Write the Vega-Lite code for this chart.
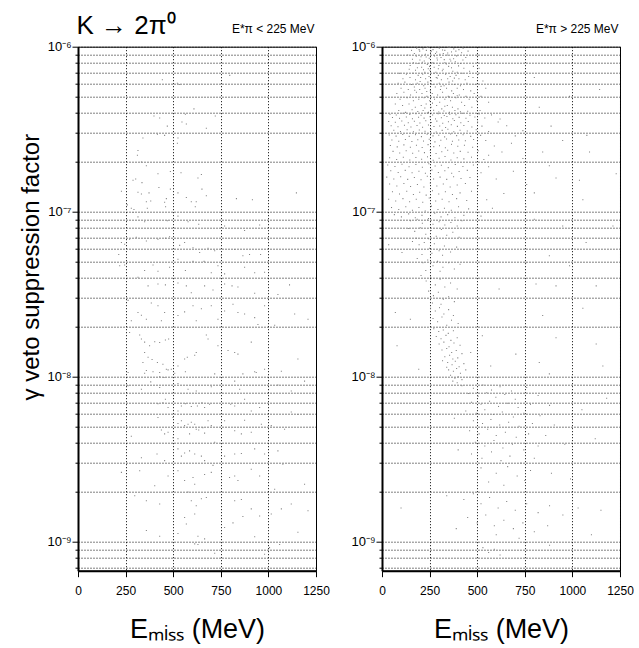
{
"$schema":"https://vega.github.io/schema/vega-lite/v6.json",
"padding":{"left":18,"top":11.7,"right":0,"bottom":0},
"background":"white",
"config":{"font":"Liberation Sans","view":{"stroke":"black","strokeWidth":1},"axis":{"labelFont":"Liberation Sans","titleFont":"Liberation Sans","labelColor":"black","titleColor":"black","titleFontWeight":"normal","domainColor":"black","tickColor":"black"}},
"bounds":"flush",
"spacing":66,
"datasets":{
"lo":[
{"x":797,"y":6.7e-7},{"x":443,"y":6.3e-7},{"x":522,"y":6.0e-7},{"x":534,"y":5.9e-7},{"x":609,"y":4.2e-7},{"x":399,"y":3.8e-7},{"x":429,"y":3.7e-7},{"x":564,"y":3.9e-7},{"x":721,"y":3.8e-7},{"x":546,"y":3.5e-7},{"x":569,"y":3.4e-7},{"x":469,"y":3.3e-7},{"x":674,"y":3.2e-7},{"x":417,"y":2.95e-7},{"x":455,"y":2.9e-7},{"x":525,"y":2.8e-7},{"x":522,"y":2.6e-7},{"x":341,"y":2.8e-7},{"x":315,"y":2.35e-7},{"x":312,"y":2.2e-7},{"x":333,"y":2.0e-7},{"x":359,"y":1.9e-7},{"x":420,"y":1.7e-7},{"x":485,"y":1.75e-7},{"x":541,"y":1.72e-7},{"x":630,"y":1.6e-7},{"x":648,"y":1.68e-7},{"x":289,"y":1.55e-7},{"x":303,"y":1.58e-7},{"x":336,"y":1.5e-7},{"x":425,"y":1.4e-7},{"x":651,"y":1.37e-7},{"x":228,"y":1.33e-7},{"x":315,"y":1.31e-7},{"x":333,"y":1.28e-7},{"x":373,"y":1.3e-7},{"x":485,"y":1.37e-7},{"x":525,"y":1.3e-7},{"x":569,"y":1.22e-7},{"x":464,"y":1.2e-7},{"x":359,"y":1.15e-7},{"x":382,"y":1.16e-7},{"x":595,"y":1.15e-7},{"x":621,"y":1.15e-7},{"x":674,"y":1.25e-7},{"x":832,"y":1.2e-7},{"x":916,"y":1.18e-7},{"x":1147,"y":1.3e-7},{"x":259,"y":1.1e-7},{"x":280,"y":1.05e-7},{"x":455,"y":1.14e-7},{"x":294,"y":1.03e-7},
{"x":364,"y":1.05e-7},{"x":460,"y":1.07e-7},{"x":616,"y":1.07e-7},{"x":289,"y":9.9e-8},{"x":315,"y":9.3e-8},{"x":350,"y":8.7e-8},{"x":469,"y":8.8e-8},{"x":578,"y":8.7e-8},{"x":634,"y":8.4e-8},{"x":525,"y":9.4e-8},{"x":770,"y":8.2e-8},{"x":875,"y":7.7e-8},{"x":954,"y":8.3e-8},
{"x":228,"y":6.5e-8},{"x":245,"y":6.35e-8},{"x":271,"y":6.8e-8},{"x":306,"y":7.0e-8},{"x":359,"y":6.65e-8},{"x":420,"y":6.8e-8},{"x":460,"y":6.9e-8},{"x":481,"y":7.05e-8},{"x":534,"y":6.25e-8},{"x":560,"y":6.5e-8},{"x":604,"y":6.05e-8},{"x":639,"y":5.65e-8},{"x":683,"y":6.0e-8},{"x":718,"y":5.8e-8},{"x":753,"y":5.4e-8},{"x":823,"y":5.9e-8},{"x":866,"y":5.4e-8},{"x":901,"y":5.5e-8},{"x":959,"y":5.5e-8},{"x":214,"y":5.5e-8},{"x":219,"y":4.7e-8},{"x":245,"y":4.75e-8},{"x":350,"y":4.4e-8},{"x":394,"y":4.75e-8},{"x":420,"y":4.35e-8},{"x":481,"y":4.6e-8},{"x":525,"y":5.15e-8},{"x":564,"y":4.4e-8},{"x":604,"y":5.0e-8},{"x":662,"y":5.0e-8},{"x":700,"y":4.27e-8},{"x":735,"y":4.7e-8},{"x":770,"y":4.2e-8},{"x":875,"y":4.6e-8},{"x":928,"y":4.27e-8},{"x":980,"y":4.3e-8},
{"x":315,"y":4.0e-8},{"x":368,"y":3.55e-8},{"x":420,"y":3.65e-8},{"x":459,"y":3.6e-8},{"x":525,"y":3.7e-8},{"x":569,"y":3.55e-8},{"x":595,"y":3.23e-8},{"x":665,"y":3.55e-8},{"x":709,"y":3.35e-8},{"x":770,"y":3.65e-8},{"x":809,"y":3.55e-8},{"x":840,"y":3.5e-8},{"x":928,"y":3.2e-8},{"x":1050,"y":3.15e-8},{"x":1111,"y":3.6e-8},{"x":263,"y":2.9e-8},{"x":315,"y":2.45e-8},{"x":333,"y":2.36e-8},{"x":385,"y":2.8e-8},{"x":420,"y":2.69e-8},{"x":455,"y":2.45e-8},{"x":525,"y":2.35e-8},{"x":560,"y":2.47e-8},{"x":604,"y":2.69e-8},{"x":648,"y":2.58e-8},{"x":700,"y":2.69e-8},{"x":770,"y":2.5e-8},{"x":814,"y":2.75e-8},{"x":840,"y":2.45e-8},{"x":875,"y":2.4e-8},{"x":928,"y":2.28e-8},{"x":980,"y":2.69e-8},{"x":1138,"y":2.4e-8},{"x":1208,"y":2.23e-8},{"x":280,"y":2.18e-8},{"x":359,"y":2.23e-8},{"x":438,"y":2.18e-8},{"x":621,"y":2.18e-8},{"x":735,"y":2.23e-8},{"x":945,"y":2.07e-8},{"x":1033,"y":2.05e-8},
{"x":271,"y":1.85e-8},{"x":324,"y":1.79e-8},{"x":333,"y":1.69e-8},{"x":350,"y":1.62e-8},{"x":376,"y":1.54e-8},{"x":403,"y":1.63e-8},{"x":429,"y":1.61e-8},{"x":459,"y":1.67e-8},{"x":476,"y":1.69e-8},{"x":350,"y":1.4e-8},{"x":368,"y":1.31e-8},{"x":389,"y":1.27e-8},{"x":417,"y":1.22e-8},{"x":446,"y":1.19e-8},{"x":464,"y":1.11e-8},{"x":473,"y":1.1e-8},{"x":341,"y":1.22e-8},{"x":359,"y":1.09e-8},{"x":429,"y":1.06e-8},{"x":490,"y":1.11e-8},{"x":525,"y":1.16e-8},{"x":560,"y":1.28e-8},{"x":574,"y":1.31e-8},{"x":613,"y":1.35e-8},{"x":621,"y":1.4e-8},{"x":674,"y":1.79e-8},{"x":683,"y":1.69e-8},{"x":735,"y":1.54e-8},{"x":788,"y":1.44e-8},{"x":823,"y":1.4e-8},{"x":840,"y":1.37e-8},{"x":910,"y":1.62e-8},{"x":980,"y":1.11e-8},{"x":936,"y":1.06e-8},{"x":1068,"y":1.08e-8},{"x":1155,"y":1.28e-8},{"x":263,"y":1.06e-8},
{"x":350,"y":1.05e-8},{"x":394,"y":1.07e-8},{"x":429,"y":1.0e-8},{"x":452,"y":9.9e-9},{"x":508,"y":1.05e-8},{"x":564,"y":1.07e-8},{"x":718,"y":1.04e-8},{"x":866,"y":1.04e-8},{"x":928,"y":1.07e-8},{"x":263,"y":8.8e-9},{"x":333,"y":8.4e-9},{"x":382,"y":9.3e-9},{"x":429,"y":8.6e-9},{"x":525,"y":9.1e-9},{"x":578,"y":8.4e-9},{"x":621,"y":8.2e-9},{"x":700,"y":8.7e-9},{"x":823,"y":9.4e-9},{"x":849,"y":8.4e-9},{"x":998,"y":7.9e-9},{"x":1050,"y":8.9e-9},{"x":1120,"y":8.2e-9},{"x":1190,"y":9.4e-9},
{"x":420,"y":6.85e-9},{"x":446,"y":6.95e-9},{"x":459,"y":7.3e-9},{"x":473,"y":6.5e-9},{"x":525,"y":6.2e-9},{"x":543,"y":6.65e-9},{"x":564,"y":6.85e-9},{"x":595,"y":6.6e-9},{"x":627,"y":6.65e-9},{"x":651,"y":6.95e-9},{"x":665,"y":6.5e-9},{"x":691,"y":6.8e-9},{"x":802,"y":6.8e-9},{"x":823,"y":6.65e-9},{"x":875,"y":7.3e-9},{"x":910,"y":6.2e-9},{"x":954,"y":6.5e-9},{"x":420,"y":5.65e-9},{"x":499,"y":5.65e-9},{"x":525,"y":5.2e-9},{"x":543,"y":5.4e-9},{"x":560,"y":5.05e-9},{"x":578,"y":5.15e-9},{"x":595,"y":5.3e-9},{"x":613,"y":5.15e-9},{"x":634,"y":4.75e-9},{"x":656,"y":4.9e-9},{"x":683,"y":5.4e-9},{"x":700,"y":5.05e-9},{"x":770,"y":5.4e-9},{"x":823,"y":4.7e-9},{"x":875,"y":5.45e-9},{"x":963,"y":5.15e-9},{"x":1015,"y":5.05e-9},{"x":1085,"y":4.8e-9},{"x":1120,"y":6.1e-9},{"x":1155,"y":5.9e-9},{"x":438,"y":4.75e-9},{"x":455,"y":4.5e-9},{"x":473,"y":4.6e-9},{"x":499,"y":4.27e-9},{"x":525,"y":4.2e-9},{"x":586,"y":4.5e-9},{"x":621,"y":4.8e-9},{"x":665,"y":4.55e-9},{"x":718,"y":4.0e-9},{"x":280,"y":4.35e-9},{"x":858,"y":4.5e-9},{"x":910,"y":4.6e-9},
{"x":333,"y":3.23e-9},{"x":415,"y":3.4e-9},{"x":455,"y":3.1e-9},{"x":525,"y":3.65e-9},{"x":543,"y":3.3e-9},{"x":560,"y":3.45e-9},{"x":586,"y":3.55e-9},{"x":613,"y":3.4e-9},{"x":648,"y":3.3e-9},{"x":665,"y":3.1e-9},{"x":709,"y":2.9e-9},{"x":770,"y":3.3e-9},{"x":823,"y":3.4e-9},{"x":858,"y":3.42e-9},{"x":928,"y":3.65e-9},{"x":980,"y":3.4e-9},{"x":1050,"y":3.55e-9},{"x":1076,"y":2.95e-9},{"x":228,"y":2.63e-9},{"x":324,"y":2.69e-9},{"x":473,"y":2.5e-9},{"x":525,"y":2.69e-9},{"x":560,"y":2.35e-9},{"x":604,"y":2.45e-9},{"x":613,"y":2.23e-9},{"x":665,"y":2.55e-9},{"x":700,"y":2.63e-9},{"x":796,"y":2.45e-9},{"x":823,"y":2.5e-9},{"x":840,"y":2.35e-9},{"x":910,"y":2.75e-9},{"x":954,"y":2.5e-9},{"x":1033,"y":2.08e-9},{"x":1190,"y":2.23e-9},{"x":403,"y":2.18e-9},
{"x":298,"y":1.9e-9},{"x":359,"y":1.77e-9},{"x":429,"y":1.69e-9},{"x":578,"y":2.0e-9},{"x":595,"y":1.77e-9},{"x":621,"y":1.65e-9},{"x":648,"y":1.82e-9},{"x":674,"y":1.85e-9},{"x":560,"y":1.4e-9},{"x":569,"y":1.28e-9},{"x":613,"y":1.47e-9},{"x":823,"y":1.77e-9},{"x":858,"y":1.8e-9},{"x":866,"y":1.42e-9},{"x":910,"y":1.58e-9},{"x":954,"y":1.43e-9},{"x":1015,"y":1.47e-9},{"x":1068,"y":1.58e-9},{"x":1120,"y":1.69e-9},{"x":1208,"y":1.54e-9},{"x":359,"y":1.17e-9},{"x":429,"y":1.08e-9},{"x":525,"y":1.12e-9},{"x":630,"y":1.08e-9},{"x":770,"y":1.22e-9},{"x":814,"y":1.3e-9},{"x":928,"y":1.07e-9},{"x":1155,"y":1.14e-9},
{"x":613,"y":9.7e-10},{"x":630,"y":9.6e-10},{"x":718,"y":8.5e-10},{"x":980,"y":8.4e-10},{"x":1006,"y":9.2e-10},{"x":1059,"y":9.6e-10},{"x":665,"y":1.04e-9}
],
"hi":[
{"x":182,"y":9.8e-7},{"x":215,"y":9.7e-7},{"x":240,"y":9.9e-7},{"x":268,"y":9.6e-7},{"x":301,"y":9.8e-7},{"x":330,"y":9.5e-7},{"x":352,"y":9.9e-7},{"x":377,"y":9.7e-7},{"x":404,"y":9.6e-7},{"x":287,"y":9.3e-7},{"x":198,"y":9.4e-7},{"x":255,"y":9.2e-7},{"x":322,"y":9.1e-7},{"x":365,"y":9.3e-7},{"x":418,"y":9.2e-7},{"x":228,"y":9.0e-7},{"x":170,"y":9.1e-7},{"x":343,"y":8.9e-7},{"x":276,"y":8.8e-7},{"x":392,"y":8.8e-7},{"x":205,"y":8.7e-7},{"x":310,"y":8.6e-7},{"x":248,"y":8.5e-7},{"x":440,"y":8.6e-7},{"x":160,"y":8.4e-7},{"x":357,"y":8.4e-7},{"x":291,"y":8.3e-7},{"x":222,"y":8.2e-7},{"x":385,"y":8.1e-7},{"x":263,"y":8.0e-7},{"x":330,"y":8.0e-7},{"x":189,"y":7.9e-7},{"x":412,"y":7.9e-7},{"x":238,"y":7.8e-7},{"x":299,"y":7.7e-7},{"x":148,"y":7.7e-7},{"x":350,"y":7.6e-7},{"x":274,"y":7.5e-7},{"x":208,"y":7.5e-7},{"x":430,"y":7.4e-7},{"x":321,"y":7.3e-7},{"x":252,"y":7.2e-7},{"x":176,"y":7.2e-7},{"x":372,"y":7.1e-7},{"x":283,"y":7.0e-7},{"x":225,"y":7.0e-7},{"x":460,"y":7.1e-7},{"x":395,"y":7.0e-7},
{"x":195,"y":9.6e-7},{"x":260,"y":9.4e-7},{"x":318,"y":9.55e-7},{"x":345,"y":9.15e-7},{"x":232,"y":8.65e-7},{"x":289,"y":8.55e-7},{"x":376,"y":8.45e-7},{"x":212,"y":8.05e-7},{"x":338,"y":7.85e-7},{"x":270,"y":7.95e-7},{"x":186,"y":7.45e-7},{"x":402,"y":7.65e-7},{"x":317,"y":7.15e-7},{"x":243,"y":7.35e-7},{"x":165,"y":8.0e-7},{"x":425,"y":8.3e-7},{"x":135,"y":8.9e-7},{"x":480,"y":7.6e-7},{"x":155,"y":9.5e-7},{"x":452,"y":9.4e-7},{"x":304,"y":9.0e-7},{"x":233,"y":9.5e-7},{"x":361,"y":8.2e-7},{"x":281,"y":9.1e-7},{"x":199,"y":8.3e-7},{"x":426,"y":9.8e-7},{"x":500,"y":8.9e-7},{"x":143,"y":7.3e-7},{"x":510,"y":7.4e-7},{"x":388,"y":9.4e-7},{"x":250,"y":7.6e-7},{"x":327,"y":8.35e-7},{"x":218,"y":7.25e-7},{"x":296,"y":7.35e-7},{"x":365,"y":7.45e-7},{"x":180,"y":8.75e-7},
{"x":92,"y":6.9e-7},{"x":128,"y":6.8e-7},{"x":163,"y":6.9e-7},{"x":190,"y":6.7e-7},{"x":214,"y":6.8e-7},{"x":247,"y":6.6e-7},{"x":273,"y":6.9e-7},{"x":296,"y":6.7e-7},{"x":334,"y":6.8e-7},{"x":358,"y":6.6e-7},{"x":389,"y":6.7e-7},{"x":421,"y":6.9e-7},{"x":455,"y":6.6e-7},{"x":505,"y":6.8e-7},
{"x":110,"y":6.4e-7},{"x":147,"y":6.5e-7},{"x":176,"y":6.3e-7},{"x":203,"y":6.5e-7},{"x":229,"y":6.4e-7},{"x":260,"y":6.2e-7},{"x":285,"y":6.5e-7},{"x":312,"y":6.3e-7},{"x":345,"y":6.4e-7},{"x":371,"y":6.2e-7},{"x":404,"y":6.4e-7},{"x":437,"y":6.3e-7},{"x":478,"y":6.5e-7},{"x":530,"y":6.2e-7},
{"x":85,"y":6.0e-7},{"x":120,"y":6.1e-7},{"x":155,"y":5.9e-7},{"x":185,"y":6.0e-7},{"x":219,"y":5.8e-7},{"x":241,"y":6.1e-7},{"x":268,"y":5.9e-7},{"x":301,"y":6.0e-7},{"x":326,"y":5.8e-7},{"x":352,"y":6.1e-7},{"x":380,"y":5.9e-7},{"x":412,"y":5.8e-7},{"x":446,"y":6.0e-7},{"x":490,"y":5.9e-7},
{"x":100,"y":5.6e-7},{"x":138,"y":5.5e-7},{"x":170,"y":5.7e-7},{"x":198,"y":5.5e-7},{"x":226,"y":5.6e-7},{"x":254,"y":5.4e-7},{"x":280,"y":5.7e-7},{"x":307,"y":5.5e-7},{"x":339,"y":5.6e-7},{"x":366,"y":5.4e-7},{"x":395,"y":5.6e-7},{"x":428,"y":5.5e-7},{"x":466,"y":5.4e-7},{"x":545,"y":5.6e-7},
{"x":78,"y":5.2e-7},{"x":115,"y":5.3e-7},{"x":150,"y":5.1e-7},{"x":181,"y":5.3e-7},{"x":210,"y":5.2e-7},{"x":236,"y":5.0e-7},{"x":264,"y":5.2e-7},{"x":292,"y":5.1e-7},{"x":318,"y":5.3e-7},{"x":348,"y":5.0e-7},{"x":375,"y":5.2e-7},{"x":406,"y":5.1e-7},{"x":441,"y":5.0e-7},{"x":484,"y":5.2e-7},{"x":520,"y":5.0e-7},
{"x":95,"y":4.8e-7},{"x":132,"y":4.9e-7},{"x":165,"y":4.7e-7},{"x":193,"y":4.8e-7},{"x":221,"y":4.9e-7},{"x":250,"y":4.7e-7},{"x":276,"y":4.8e-7},{"x":303,"y":4.6e-7},{"x":330,"y":4.8e-7},{"x":360,"y":4.7e-7},{"x":388,"y":4.9e-7},{"x":418,"y":4.6e-7},{"x":458,"y":4.8e-7},{"x":498,"y":4.7e-7},{"x":560,"y":4.6e-7},
{"x":70,"y":4.5e-7},{"x":108,"y":4.4e-7},{"x":142,"y":4.5e-7},{"x":175,"y":4.3e-7},{"x":206,"y":4.4e-7},{"x":232,"y":4.5e-7},{"x":258,"y":4.3e-7},{"x":287,"y":4.4e-7},{"x":314,"y":4.2e-7},{"x":343,"y":4.4e-7},{"x":370,"y":4.3e-7},{"x":399,"y":4.2e-7},{"x":434,"y":4.4e-7},{"x":472,"y":4.3e-7},{"x":515,"y":4.1e-7},
{"x":88,"y":4.1e-7},{"x":124,"y":4.0e-7},{"x":158,"y":4.15e-7},{"x":188,"y":4.05e-7},{"x":216,"y":4.1e-7},{"x":244,"y":4.0e-7},{"x":271,"y":4.12e-7},{"x":298,"y":4.02e-7},{"x":325,"y":4.08e-7},{"x":354,"y":4.0e-7},{"x":383,"y":4.1e-7},{"x":412,"y":4.03e-7},{"x":450,"y":4.06e-7},
{"x":200,"y":6.15e-7},{"x":235,"y":5.35e-7},{"x":265,"y":4.55e-7},{"x":310,"y":5.75e-7},{"x":355,"y":4.95e-7},{"x":290,"y":6.45e-7},{"x":225,"y":4.25e-7},{"x":380,"y":6.45e-7},{"x":172,"y":5.45e-7},{"x":330,"y":4.35e-7},{"x":258,"y":5.95e-7},{"x":395,"y":5.05e-7},
{"x":42,"y":3.9e-7},{"x":75,"y":3.85e-7},{"x":110,"y":3.95e-7},{"x":146,"y":3.88e-7},{"x":178,"y":3.92e-7},{"x":205,"y":3.84e-7},{"x":238,"y":3.96e-7},{"x":266,"y":3.86e-7},{"x":295,"y":3.93e-7},{"x":327,"y":3.83e-7},{"x":356,"y":3.9e-7},{"x":388,"y":3.87e-7},{"x":423,"y":3.95e-7},{"x":462,"y":3.84e-7},{"x":510,"y":3.91e-7},{"x":575,"y":3.86e-7},
{"x":55,"y":3.72e-7},{"x":92,"y":3.68e-7},{"x":128,"y":3.75e-7},{"x":160,"y":3.66e-7},{"x":192,"y":3.74e-7},{"x":221,"y":3.69e-7},{"x":252,"y":3.76e-7},{"x":281,"y":3.65e-7},{"x":312,"y":3.71e-7},{"x":341,"y":3.77e-7},{"x":372,"y":3.66e-7},{"x":405,"y":3.73e-7},{"x":441,"y":3.68e-7},{"x":488,"y":3.75e-7},{"x":540,"y":3.7e-7},
{"x":35,"y":3.52e-7},{"x":70,"y":3.48e-7},{"x":104,"y":3.55e-7},{"x":138,"y":3.46e-7},{"x":170,"y":3.53e-7},{"x":199,"y":3.45e-7},{"x":230,"y":3.56e-7},{"x":259,"y":3.47e-7},{"x":288,"y":3.54e-7},{"x":319,"y":3.44e-7},{"x":349,"y":3.51e-7},{"x":380,"y":3.57e-7},{"x":414,"y":3.46e-7},{"x":453,"y":3.52e-7},{"x":502,"y":3.49e-7},{"x":610,"y":3.5e-7},
{"x":48,"y":3.32e-7},{"x":84,"y":3.27e-7},{"x":118,"y":3.34e-7},{"x":152,"y":3.26e-7},{"x":184,"y":3.33e-7},{"x":213,"y":3.25e-7},{"x":244,"y":3.35e-7},{"x":273,"y":3.28e-7},{"x":303,"y":3.31e-7},{"x":334,"y":3.24e-7},{"x":364,"y":3.36e-7},{"x":396,"y":3.29e-7},{"x":430,"y":3.33e-7},{"x":472,"y":3.26e-7},{"x":525,"y":3.3e-7},{"x":655,"y":3.32e-7},
{"x":62,"y":3.12e-7},{"x":97,"y":3.06e-7},{"x":132,"y":3.14e-7},{"x":165,"y":3.05e-7},{"x":196,"y":3.13e-7},{"x":226,"y":3.07e-7},{"x":257,"y":3.15e-7},{"x":285,"y":3.04e-7},{"x":316,"y":3.11e-7},{"x":346,"y":3.16e-7},{"x":377,"y":3.05e-7},{"x":410,"y":3.12e-7},{"x":448,"y":3.08e-7},{"x":495,"y":3.14e-7},{"x":560,"y":3.06e-7},
{"x":38,"y":2.92e-7},{"x":74,"y":2.87e-7},{"x":109,"y":2.94e-7},{"x":143,"y":2.86e-7},{"x":176,"y":2.93e-7},{"x":207,"y":2.85e-7},{"x":237,"y":2.95e-7},{"x":268,"y":2.88e-7},{"x":298,"y":2.91e-7},{"x":329,"y":2.84e-7},{"x":360,"y":2.96e-7},{"x":392,"y":2.89e-7},{"x":426,"y":2.93e-7},{"x":466,"y":2.86e-7},{"x":518,"y":2.9e-7},{"x":700,"y":2.88e-7},
{"x":52,"y":2.72e-7},{"x":88,"y":2.67e-7},{"x":123,"y":2.74e-7},{"x":157,"y":2.66e-7},{"x":188,"y":2.73e-7},{"x":218,"y":2.68e-7},{"x":248,"y":2.75e-7},{"x":278,"y":2.65e-7},{"x":309,"y":2.71e-7},{"x":339,"y":2.76e-7},{"x":370,"y":2.67e-7},{"x":403,"y":2.72e-7},{"x":438,"y":2.69e-7},{"x":481,"y":2.74e-7},{"x":545,"y":2.7e-7},
{"x":44,"y":2.52e-7},{"x":80,"y":2.47e-7},{"x":115,"y":2.54e-7},{"x":149,"y":2.46e-7},{"x":181,"y":2.53e-7},{"x":211,"y":2.45e-7},{"x":242,"y":2.55e-7},{"x":272,"y":2.48e-7},{"x":302,"y":2.51e-7},{"x":333,"y":2.44e-7},{"x":365,"y":2.56e-7},{"x":398,"y":2.49e-7},{"x":433,"y":2.53e-7},{"x":476,"y":2.46e-7},{"x":590,"y":2.5e-7},
{"x":58,"y":2.32e-7},{"x":93,"y":2.27e-7},{"x":127,"y":2.34e-7},{"x":161,"y":2.26e-7},{"x":193,"y":2.33e-7},{"x":223,"y":2.28e-7},{"x":254,"y":2.35e-7},{"x":284,"y":2.25e-7},{"x":314,"y":2.31e-7},{"x":345,"y":2.36e-7},{"x":377,"y":2.27e-7},{"x":411,"y":2.32e-7},{"x":452,"y":2.29e-7},{"x":505,"y":2.34e-7},{"x":630,"y":2.3e-7},
{"x":40,"y":2.12e-7},{"x":77,"y":2.07e-7},{"x":112,"y":2.14e-7},{"x":146,"y":2.06e-7},{"x":178,"y":2.13e-7},{"x":208,"y":2.08e-7},{"x":239,"y":2.15e-7},{"x":269,"y":2.05e-7},{"x":300,"y":2.11e-7},{"x":331,"y":2.16e-7},{"x":362,"y":2.06e-7},{"x":395,"y":2.12e-7},{"x":430,"y":2.09e-7},{"x":470,"y":2.14e-7},{"x":535,"y":2.07e-7},{"x":740,"y":2.1e-7},
{"x":620,"y":3.65e-7},{"x":680,"y":2.6e-7},{"x":740,"y":3.1e-7},{"x":560,"y":2.2e-7},
{"x":30,"y":1.92e-7},{"x":68,"y":1.88e-7},{"x":105,"y":1.94e-7},{"x":142,"y":1.87e-7},{"x":178,"y":1.93e-7},{"x":212,"y":1.86e-7},{"x":246,"y":1.95e-7},{"x":279,"y":1.89e-7},{"x":312,"y":1.91e-7},{"x":348,"y":1.85e-7},{"x":385,"y":1.93e-7},{"x":425,"y":1.88e-7},{"x":480,"y":1.92e-7},{"x":560,"y":1.87e-7},
{"x":46,"y":1.77e-7},{"x":85,"y":1.73e-7},{"x":122,"y":1.78e-7},{"x":158,"y":1.72e-7},{"x":194,"y":1.76e-7},{"x":228,"y":1.71e-7},{"x":262,"y":1.79e-7},{"x":296,"y":1.73e-7},{"x":330,"y":1.77e-7},{"x":366,"y":1.71e-7},{"x":405,"y":1.75e-7},{"x":448,"y":1.78e-7},{"x":520,"y":1.72e-7},{"x":690,"y":1.76e-7},
{"x":25,"y":1.62e-7},{"x":62,"y":1.58e-7},{"x":98,"y":1.63e-7},{"x":135,"y":1.57e-7},{"x":170,"y":1.61e-7},{"x":205,"y":1.56e-7},{"x":238,"y":1.64e-7},{"x":271,"y":1.58e-7},{"x":305,"y":1.62e-7},{"x":340,"y":1.57e-7},{"x":376,"y":1.63e-7},{"x":415,"y":1.59e-7},{"x":462,"y":1.61e-7},{"x":600,"y":1.58e-7},
{"x":40,"y":1.47e-7},{"x":78,"y":1.43e-7},{"x":115,"y":1.48e-7},{"x":150,"y":1.42e-7},{"x":186,"y":1.46e-7},{"x":220,"y":1.41e-7},{"x":254,"y":1.49e-7},{"x":288,"y":1.43e-7},{"x":322,"y":1.47e-7},{"x":358,"y":1.41e-7},{"x":395,"y":1.45e-7},{"x":438,"y":1.48e-7},{"x":505,"y":1.44e-7},{"x":760,"y":1.46e-7},
{"x":55,"y":1.32e-7},{"x":92,"y":1.28e-7},{"x":130,"y":1.33e-7},{"x":165,"y":1.27e-7},{"x":198,"y":1.31e-7},{"x":232,"y":1.26e-7},{"x":265,"y":1.34e-7},{"x":298,"y":1.28e-7},{"x":333,"y":1.32e-7},{"x":370,"y":1.27e-7},{"x":410,"y":1.3e-7},{"x":470,"y":1.33e-7},{"x":640,"y":1.29e-7},
{"x":35,"y":1.19e-7},{"x":72,"y":1.16e-7},{"x":110,"y":1.2e-7},{"x":145,"y":1.15e-7},{"x":180,"y":1.19e-7},{"x":214,"y":1.14e-7},{"x":248,"y":1.21e-7},{"x":282,"y":1.16e-7},{"x":316,"y":1.19e-7},{"x":352,"y":1.15e-7},{"x":392,"y":1.2e-7},{"x":445,"y":1.17e-7},{"x":550,"y":1.18e-7},
{"x":50,"y":1.06e-7},{"x":88,"y":1.03e-7},{"x":125,"y":1.07e-7},{"x":160,"y":1.02e-7},{"x":194,"y":1.06e-7},{"x":227,"y":1.01e-7},{"x":260,"y":1.08e-7},{"x":294,"y":1.03e-7},{"x":328,"y":1.05e-7},{"x":364,"y":1.02e-7},{"x":402,"y":1.07e-7},{"x":455,"y":1.04e-7},{"x":580,"y":1.05e-7},
{"x":65,"y":9.6e-8},{"x":102,"y":9.3e-8},{"x":140,"y":9.7e-8},{"x":175,"y":9.2e-8},{"x":210,"y":9.5e-8},{"x":244,"y":9.1e-8},{"x":277,"y":9.8e-8},{"x":310,"y":9.3e-8},{"x":345,"y":9.6e-8},{"x":383,"y":9.2e-8},{"x":430,"y":9.5e-8},{"x":520,"y":9.4e-8},
{"x":150,"y":8.8e-8},{"x":185,"y":9.0e-8},{"x":212,"y":8.5e-8},{"x":240,"y":8.9e-8},{"x":268,"y":8.4e-8},{"x":300,"y":8.7e-8},{"x":330,"y":8.3e-8},{"x":362,"y":8.6e-8},{"x":395,"y":8.2e-8},{"x":420,"y":8.8e-8},
{"x":140,"y":7.9e-8},{"x":172,"y":7.6e-8},{"x":201,"y":8.0e-8},{"x":230,"y":7.3e-8},{"x":258,"y":7.7e-8},{"x":285,"y":7.1e-8},{"x":312,"y":7.8e-8},{"x":340,"y":7.2e-8},{"x":372,"y":7.5e-8},{"x":405,"y":7.0e-8},{"x":180,"y":6.9e-8},{"x":245,"y":6.85e-8},
{"x":160,"y":6.6e-8},{"x":195,"y":6.3e-8},{"x":222,"y":6.5e-8},{"x":250,"y":6.0e-8},{"x":275,"y":6.4e-8},{"x":300,"y":5.8e-8},{"x":328,"y":6.2e-8},{"x":360,"y":5.7e-8},{"x":392,"y":6.1e-8},{"x":210,"y":5.5e-8},{"x":262,"y":5.6e-8},{"x":318,"y":5.45e-8},{"x":430,"y":5.9e-8},
{"x":185,"y":5.2e-8},{"x":215,"y":4.9e-8},{"x":240,"y":5.1e-8},{"x":268,"y":4.7e-8},{"x":292,"y":5.0e-8},{"x":320,"y":4.6e-8},{"x":350,"y":4.9e-8},{"x":380,"y":4.5e-8},{"x":230,"y":4.4e-8},{"x":305,"y":4.35e-8},{"x":410,"y":4.8e-8},
{"x":205,"y":4.1e-8},{"x":232,"y":3.8e-8},{"x":255,"y":4.0e-8},{"x":280,"y":3.6e-8},{"x":305,"y":3.9e-8},{"x":330,"y":3.5e-8},{"x":360,"y":3.7e-8},{"x":395,"y":3.4e-8},{"x":245,"y":3.3e-8},{"x":270,"y":3.1e-8},{"x":296,"y":3.25e-8},{"x":322,"y":2.95e-8},{"x":350,"y":3.05e-8},{"x":265,"y":2.8e-8},{"x":310,"y":2.75e-8},{"x":380,"y":2.85e-8},
{"x":255,"y":2.6e-8},{"x":280,"y":2.5e-8},{"x":302,"y":2.62e-8},{"x":325,"y":2.4e-8},{"x":350,"y":2.55e-8},{"x":375,"y":2.35e-8},{"x":268,"y":2.25e-8},{"x":292,"y":2.15e-8},{"x":315,"y":2.3e-8},{"x":340,"y":2.05e-8},{"x":365,"y":2.2e-8},{"x":400,"y":2.1e-8},
{"x":272,"y":1.95e-8},{"x":298,"y":1.88e-8},{"x":322,"y":1.92e-8},{"x":348,"y":1.83e-8},{"x":375,"y":1.9e-8},{"x":285,"y":1.75e-8},{"x":310,"y":1.7e-8},{"x":336,"y":1.78e-8},{"x":362,"y":1.66e-8},{"x":395,"y":1.72e-8},{"x":300,"y":1.58e-8},{"x":325,"y":1.62e-8},{"x":352,"y":1.52e-8},{"x":378,"y":1.6e-8},{"x":410,"y":1.55e-8},{"x":315,"y":1.45e-8},{"x":340,"y":1.48e-8},{"x":366,"y":1.4e-8},{"x":390,"y":1.44e-8},{"x":420,"y":1.38e-8},{"x":330,"y":1.32e-8},{"x":355,"y":1.35e-8},{"x":372,"y":1.28e-8},{"x":398,"y":1.3e-8},{"x":345,"y":1.22e-8},{"x":368,"y":1.18e-8},{"x":385,"y":1.24e-8},{"x":405,"y":1.15e-8},{"x":430,"y":1.2e-8},{"x":350,"y":1.1e-8},{"x":375,"y":1.08e-8},{"x":392,"y":1.12e-8},{"x":412,"y":1.05e-8},{"x":360,"y":1.02e-8},{"x":383,"y":9.8e-9},{"x":400,"y":1.0e-8},{"x":420,"y":9.6e-9},{"x":372,"y":9.4e-9},{"x":395,"y":9.2e-9},{"x":340,"y":1.14e-8},{"x":318,"y":1.25e-8},{"x":440,"y":1.1e-8},
{"x":800,"y":6.5e-7},{"x":888,"y":3.3e-7},{"x":844,"y":2.3e-7},{"x":949,"y":2.7e-7},{"x":1076,"y":2.9e-7},{"x":879,"y":1.9e-7},{"x":914,"y":1.6e-7},{"x":1037,"y":1.55e-7},{"x":800,"y":1.3e-7},{"x":1055,"y":1.18e-7},{"x":756,"y":1.07e-7},{"x":1230,"y":1.7e-7},{"x":985,"y":5.0e-7},{"x":1143,"y":5.5e-7},{"x":826,"y":4.3e-7},{"x":1090,"y":2.3e-7},
{"x":35,"y":6.3e-8},{"x":70,"y":2.45e-8},{"x":79,"y":1.54e-8},{"x":149,"y":2.23e-8},{"x":193,"y":1.11e-8},{"x":105,"y":5.65e-8},{"x":756,"y":4.9e-8},{"x":809,"y":3.65e-8},{"x":914,"y":3.55e-8},{"x":985,"y":4.7e-8},{"x":1055,"y":2.6e-8},{"x":1125,"y":3.55e-8},{"x":914,"y":1.72e-8},{"x":1125,"y":1.58e-8},{"x":1160,"y":1.16e-8},{"x":826,"y":1.22e-8},{"x":571,"y":1.16e-8},{"x":527,"y":1.77e-8},{"x":615,"y":3.4e-8},{"x":879,"y":5.4e-8},{"x":800,"y":9.0e-8},{"x":949,"y":8.2e-8},{"x":1072,"y":6.5e-8},{"x":1213,"y":8.2e-8},{"x":844,"y":2.35e-8},{"x":703,"y":1.37e-8},{"x":466,"y":1.4e-8},{"x":879,"y":1.04e-8},
{"x":420,"y":8.8e-9},{"x":480,"y":8.5e-9},{"x":530,"y":8.9e-9},{"x":575,"y":8.3e-9},{"x":620,"y":8.7e-9},{"x":680,"y":8.2e-9},{"x":760,"y":8.6e-9},{"x":455,"y":7.9e-9},{"x":505,"y":7.6e-9},{"x":550,"y":8.0e-9},{"x":598,"y":7.5e-9},{"x":645,"y":7.8e-9},{"x":700,"y":7.3e-9},{"x":820,"y":7.7e-9},{"x":470,"y":7.0e-9},{"x":520,"y":6.8e-9},{"x":565,"y":7.1e-9},{"x":612,"y":6.6e-9},{"x":660,"y":6.9e-9},{"x":715,"y":6.5e-9},{"x":780,"y":6.8e-9},{"x":880,"y":6.7e-9},{"x":440,"y":6.2e-9},{"x":495,"y":6.0e-9},{"x":540,"y":6.3e-9},{"x":585,"y":5.9e-9},{"x":632,"y":6.1e-9},{"x":690,"y":5.7e-9},{"x":745,"y":6.0e-9},{"x":830,"y":5.8e-9},{"x":480,"y":5.4e-9},{"x":528,"y":5.2e-9},{"x":572,"y":5.5e-9},{"x":618,"y":5.1e-9},{"x":665,"y":5.3e-9},{"x":720,"y":5.0e-9},{"x":790,"y":5.2e-9},{"x":905,"y":5.1e-9},{"x":460,"y":4.7e-9},{"x":510,"y":4.5e-9},{"x":555,"y":4.8e-9},{"x":600,"y":4.4e-9},{"x":648,"y":4.6e-9},{"x":705,"y":4.3e-9},{"x":770,"y":4.5e-9},{"x":860,"y":4.4e-9},{"x":490,"y":4.0e-9},{"x":540,"y":3.8e-9},{"x":588,"y":4.1e-9},{"x":635,"y":3.7e-9},{"x":685,"y":3.9e-9},{"x":745,"y":3.6e-9},{"x":820,"y":3.8e-9},{"x":960,"y":3.9e-9},{"x":470,"y":3.4e-9},{"x":525,"y":3.2e-9},{"x":575,"y":3.5e-9},{"x":625,"y":3.1e-9},{"x":672,"y":3.3e-9},{"x":730,"y":3.0e-9},{"x":800,"y":3.2e-9},{"x":520,"y":2.8e-9},{"x":600,"y":2.6e-9},{"x":660,"y":2.85e-9},{"x":710,"y":2.5e-9},{"x":780,"y":2.7e-9},{"x":890,"y":2.6e-9},{"x":560,"y":2.3e-9},{"x":640,"y":2.2e-9},{"x":750,"y":2.35e-9},{"x":990,"y":2.4e-9},{"x":380,"y":5.6e-9},{"x":400,"y":3.6e-9},{"x":1050,"y":6.3e-9},{"x":1120,"y":4.2e-9},{"x":1180,"y":7.4e-9},
{"x":340,"y":1.9e-9},{"x":430,"y":1.8e-9},{"x":480,"y":1.95e-9},{"x":520,"y":1.7e-9},{"x":565,"y":1.85e-9},{"x":610,"y":1.6e-9},{"x":655,"y":1.75e-9},{"x":700,"y":1.55e-9},{"x":760,"y":1.7e-9},{"x":820,"y":1.5e-9},{"x":880,"y":1.65e-9},{"x":950,"y":1.45e-9},{"x":1030,"y":1.6e-9},{"x":1150,"y":1.55e-9},{"x":450,"y":1.4e-9},{"x":500,"y":1.3e-9},{"x":545,"y":1.45e-9},{"x":590,"y":1.25e-9},{"x":640,"y":1.35e-9},{"x":690,"y":1.2e-9},{"x":740,"y":1.3e-9},{"x":800,"y":1.15e-9},{"x":870,"y":1.25e-9},{"x":600,"y":1.1e-9},{"x":720,"y":1.05e-9},{"x":530,"y":9.2e-10},{"x":560,"y":8.6e-10},{"x":590,"y":9.0e-10},{"x":620,"y":8.3e-10},{"x":880,"y":9.5e-10},{"x":1100,"y":1.1e-9},{"x":390,"y":1.2e-9},{"x":100,"y":1.6e-9}
]
},
"hconcat":[
{
"data":{"name":"lo"},
"width":238,"height":524,
"layer":[
{"mark":{"type":"square","size":1.1,"color":"#808080","opacity":1},
"encoding":{
"x":{"field":"x","type":"quantitative","scale":{"domain":[0,1250],"nice":false,"zero":false},
"axis":{"orient":"bottom","values":[0,250,500,750,1000,1250],"format":"d","title":"Eₘᵢₛₛ (MeV)","titleFontSize":27,"titleY":67,"titleBaseline":"alphabetic","labelFontSize":12,"labelPadding":9,"tickSize":6,"domainWidth":2,"grid":true,"gridDash":[1,2],"gridColor":"black","gridOpacity":1,"gridWidth":1,"labelFlush":false,"labelOverlap":false,"labelBound":false}},
"y":{"field":"y","type":"quantitative","scale":{"type":"log","domain":[6.67e-10,1e-6],"nice":false},
"axis":{"values":[7e-10,8e-10,9e-10,1e-9,2e-9,3e-9,4e-9,5e-9,6e-9,7e-9,8e-9,9e-9,1e-8,2e-8,3e-8,4e-8,5e-8,6e-8,7e-8,8e-8,9e-8,1e-7,2e-7,3e-7,4e-7,5e-7,6e-7,7e-7,8e-7,9e-7,1e-6],
"labelExpr":"datum.value == 1e-6 ? '10⁻⁶' : datum.value == 1e-7 ? '10⁻⁷' : datum.value == 1e-8 ? '10⁻⁸' : datum.value == 1e-9 ? '10⁻⁹' : ''",
"title":"γ veto suppression factor","titleFontSize":24,"titleX":-40,"titleY":220,"titleAngle":-90,"titleAlign":"center","titleBaseline":"alphabetic",
"labelFontSize":13,"labelPadding":1,"labelBaseline":"middle","tickSize":{"condition":{"test":"datum.value == 1e-6 || datum.value == 1e-7 || datum.value == 1e-8 || datum.value == 1e-9","value":6},"value":3},
"domainWidth":2,"grid":true,"gridDash":[1,2],"gridColor":"black","gridOpacity":1,"gridWidth":1,"labelOverlap":false,"labelBound":false,"labelFlush":false}}
}},
{"mark":{"type":"rule","opacity":0},
"encoding":{"x":{"datum":1250,"type":"quantitative","scale":{"domain":[0,1250],"nice":false,"zero":false},
"axis":{"orient":"top","values":[1250],"labelExpr":"'E*π < 225 MeV'","labelAlign":"right","labelBaseline":"alphabetic","labelPadding":14,"labelFontSize":12,"labelOffset":-2,"ticks":false,"domain":false,"grid":false,"labelFlush":false,"labelOverlap":false,"labelBound":false,
"title":"K → 2π⁰","titleFontSize":26,"titleX":-2,"titleY":-13.2,"titleAlign":"left","titleBaseline":"alphabetic","titleAngle":0}}}}
],
"resolve":{"axis":{"x":"independent"}}
},
{
"data":{"name":"hi"},
"width":238,"height":524,
"layer":[
{"mark":{"type":"square","size":1.1,"color":"#808080","opacity":1},
"encoding":{
"x":{"field":"x","type":"quantitative","scale":{"domain":[0,1250],"nice":false,"zero":false},
"axis":{"orient":"bottom","values":[0,250,500,750,1000,1250],"format":"d","title":"Eₘᵢₛₛ (MeV)","titleFontSize":27,"titleY":67,"titleBaseline":"alphabetic","labelFontSize":12,"labelPadding":9,"tickSize":6,"domainWidth":2,"grid":true,"gridDash":[1,2],"gridColor":"black","gridOpacity":1,"gridWidth":1,"labelFlush":false,"labelOverlap":false,"labelBound":false}},
"y":{"field":"y","type":"quantitative","scale":{"type":"log","domain":[6.67e-10,1e-6],"nice":false},
"axis":{"values":[7e-10,8e-10,9e-10,1e-9,2e-9,3e-9,4e-9,5e-9,6e-9,7e-9,8e-9,9e-9,1e-8,2e-8,3e-8,4e-8,5e-8,6e-8,7e-8,8e-8,9e-8,1e-7,2e-7,3e-7,4e-7,5e-7,6e-7,7e-7,8e-7,9e-7,1e-6],
"labelExpr":"datum.value == 1e-6 ? '10⁻⁶' : datum.value == 1e-7 ? '10⁻⁷' : datum.value == 1e-8 ? '10⁻⁸' : datum.value == 1e-9 ? '10⁻⁹' : ''",
"title":null,
"labelFontSize":13,"labelPadding":1,"labelBaseline":"middle","tickSize":{"condition":{"test":"datum.value == 1e-6 || datum.value == 1e-7 || datum.value == 1e-8 || datum.value == 1e-9","value":6},"value":3},
"domainWidth":2,"grid":true,"gridDash":[1,2],"gridColor":"black","gridOpacity":1,"gridWidth":1,"labelOverlap":false,"labelBound":false,"labelFlush":false}}
}},
{"mark":{"type":"rule","opacity":0},
"encoding":{"x":{"datum":1250,"type":"quantitative","scale":{"domain":[0,1250],"nice":false,"zero":false},
"axis":{"orient":"top","values":[1250],"labelExpr":"'E*π > 225 MeV'","labelAlign":"right","labelBaseline":"alphabetic","labelPadding":14,"labelFontSize":12,"labelOffset":-2,"ticks":false,"domain":false,"grid":false,"labelFlush":false,"labelOverlap":false,"labelBound":false,"title":null}}}}
],
"resolve":{"axis":{"x":"independent"}}
}
]
}
